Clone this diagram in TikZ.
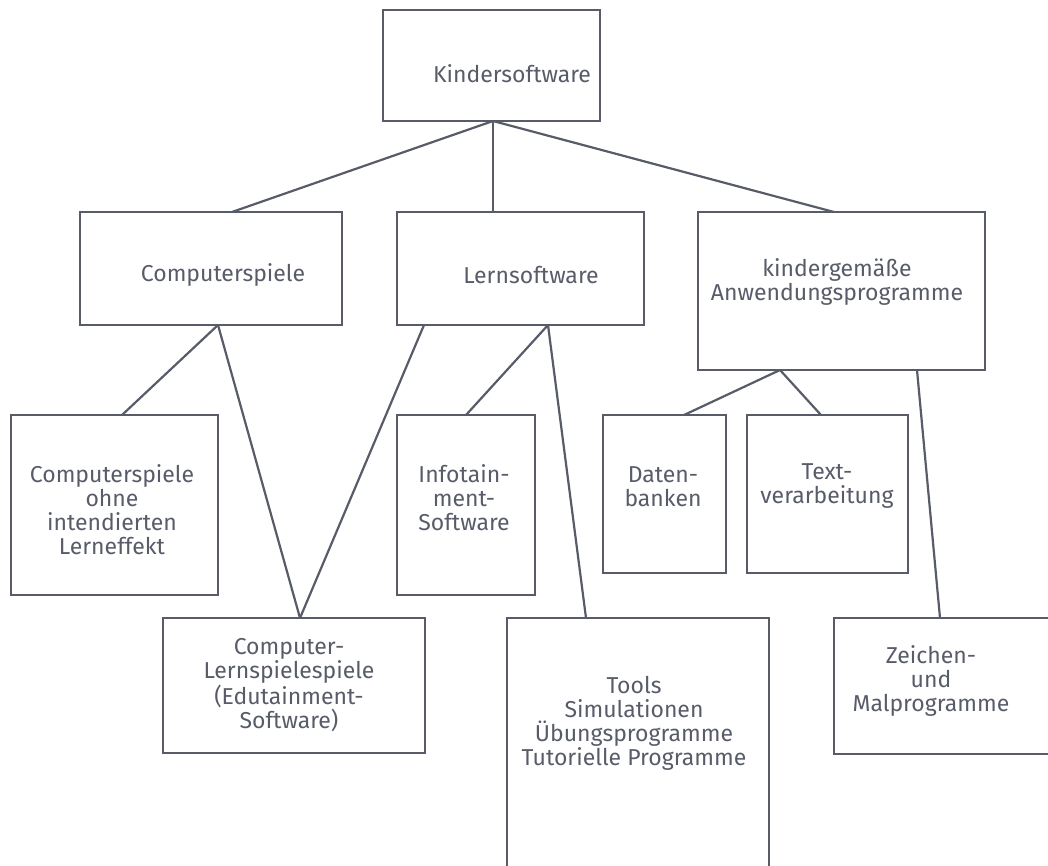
\documentclass[tikz,border=0pt]{standalone}
\usepackage{fontspec}
\setmainfont{Fira Sans}
\usetikzlibrary{calc}
\definecolor{ink}{RGB}{88,92,105}
\tikzset{
  box/.style={draw=ink, line width=2.2pt, rectangle, inner sep=0pt, outer sep=0pt},
  lbl/.style={text=ink, align=center, inner sep=0pt, font=\fontsize{23}{24}\selectfont},
  con/.style={draw=ink, line width=2.2pt}
}
\begin{document}
\begin{tikzpicture}[x=1pt,y=-1pt]
\useasboundingbox (0,0) rectangle (1048,865);
\clip (0,0) rectangle (1048,865);
% boxes
\node[box, minimum width=217pt, minimum height=111pt] (k) at (491.5,65.5) {};
\node[box, minimum width=262pt, minimum height=113pt] (cs) at (211,268.5) {};
\node[box, minimum width=247pt, minimum height=113pt] (ls) at (520.5,268.5) {};
\node[box, minimum width=287pt, minimum height=158pt] (ap) at (841.5,291) {};
\node[box, minimum width=207pt, minimum height=180pt] (co) at (114.5,505) {};
\node[box, minimum width=138pt, minimum height=180pt] (inf) at (466,505) {};
\node[box, minimum width=123pt, minimum height=158pt] (db) at (664.5,494) {};
\node[box, minimum width=161pt, minimum height=158pt] (tv) at (827.5,494) {};
\node[box, minimum width=262pt, minimum height=135pt] (ed) at (294,685.5) {};
\node[box, minimum width=262pt, minimum height=282pt] (tools) at (638,759) {};
\node[box, minimum width=226pt, minimum height=136pt] (zm) at (947,686) {};
% labels
\node[lbl] (tk) at (512,74) {Kindersoftware};
\node[lbl] (tcs) at (223,275) {Computerspiele};
\node[lbl] (tls) at (531,275) {Lernsoftware};
\node[lbl] (tap) at (837,281.5) {kindergemäße\\Anwendungsprogramme};
\node[lbl] (tdb) at (663,487) {Daten-\\banken};
\node[lbl] (ttv) at (827,486) {Text-\\verarbeitung};
\node[lbl] (tco) at (112,510) {Computerspiele\\ohne\\intendierten\\Lerneffekt};
\node[lbl] (tinf) at (464,498) {Infotain-\\ment-\\Software};
\node[lbl] (ted) at (289,685) {Computer-\\Lernspielespiele\\(Edutainment-\\Software)};
\node[lbl] (ttools) at (634,723) {Tools\\Simulationen\\Übungsprogramme\\Tutorielle Programme};
\node[lbl] (tzm) at (931,681) {Zeichen-\\und\\Malprogramme};
% attachment points
\coordinate (kb) at ($(k.south west)+(110,0)$);
\coordinate (cst) at ($(cs.north west)+(152,0)$);
\coordinate (lst) at ($(ls.north west)+(96,0)$);
\coordinate (apt) at ($(ap.north west)+(136,0)$);
\coordinate (csb) at ($(cs.south west)+(138,0)$);
\coordinate (cot) at ($(co.north west)+(111,0)$);
\coordinate (edt) at ($(ed.north west)+(137,0)$);
\coordinate (lsb1) at ($(ls.south west)+(27,0)$);
\coordinate (lsb2) at ($(ls.south west)+(151,0)$);
\coordinate (inft) at ($(inf.north west)+(69,0)$);
\coordinate (toolst) at ($(tools.north west)+(79,0)$);
\coordinate (apb1) at ($(ap.south west)+(82,0)$);
\coordinate (apb2) at ($(ap.south west)+(219,0)$);
\coordinate (dbt) at ($(db.north west)+(81,0)$);
\coordinate (tvt) at ($(tv.north west)+(74,0)$);
\coordinate (zmt) at ($(zm.north west)+(106,0)$);
% connectors
\draw[con] (kb) -- (cst);
\draw[con] (kb) -- (lst);
\draw[con] (kb) -- (apt);
\draw[con] (csb) -- (cot);
\draw[con] (csb) -- (edt);
\draw[con] (lsb1) -- (edt);
\draw[con] (lsb2) -- (inft);
\draw[con] (lsb2) -- (toolst);
\draw[con] (apb1) -- (dbt);
\draw[con] (apb1) -- (tvt);
\draw[con] (apb2) -- (zmt);
\end{tikzpicture}
\end{document}
